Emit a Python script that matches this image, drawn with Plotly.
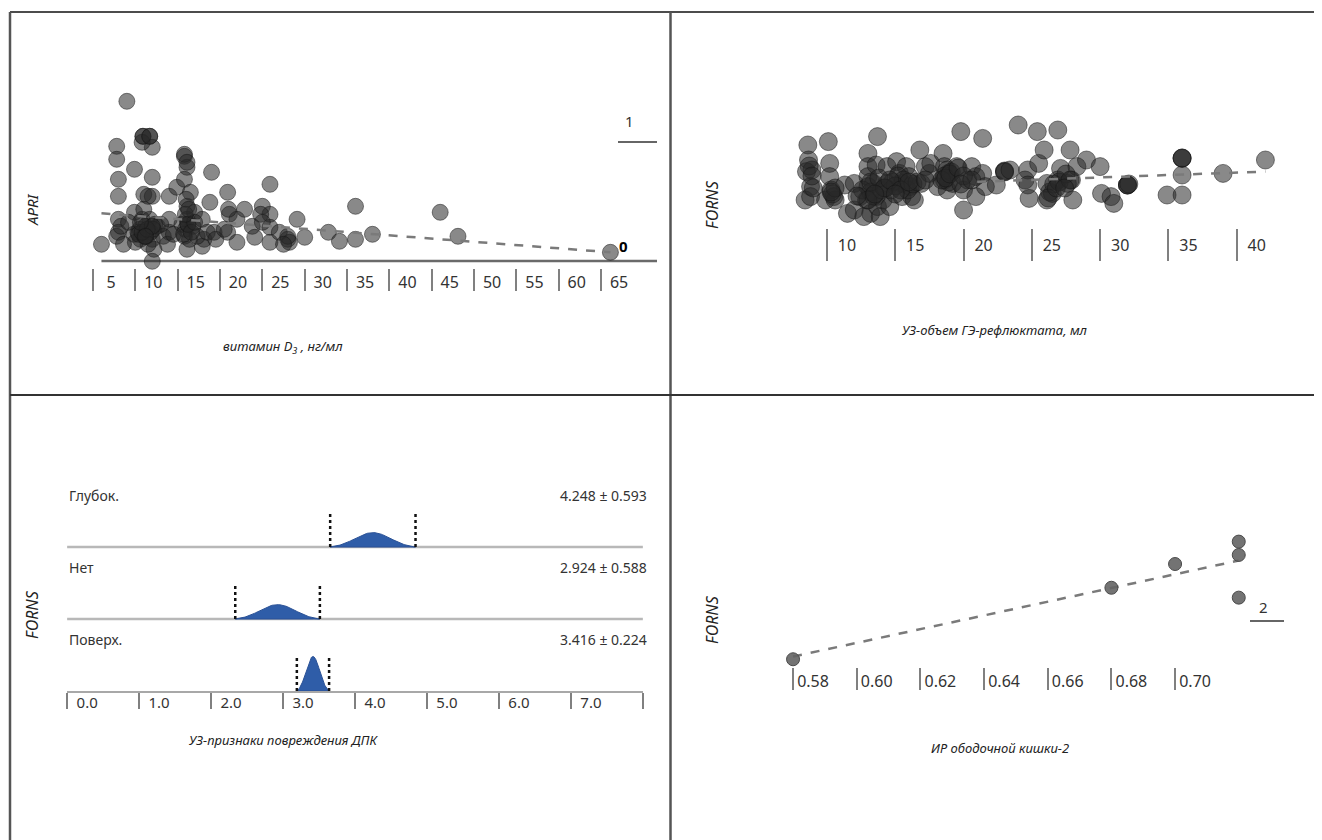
import numpy as np
import plotly.graph_objects as go

# the page body adds an 8px margin, so the figure is drawn 8px smaller and
# all reference pixel positions are shifted by that margin
OFF = 8
W, H = 1322 - OFF, 840 - OFF


def fx(px):
    return (px - OFF) / W


def fy(py):
    return 1 - (py - OFF) / H


# ---------------- Panel 1: APRI vs vitamin D3 ----------------
vit_d = [6.0, 9.0, 7.8, 7.8, 8.0, 8.0, 8.0, 8.0, 7.8, 9.9, 10.9, 11.7, 12.0, 12.0, 11.0, 12.0,
         10.8, 11.7, 11.3, 12.0, 12.2, 12.0, 10.3, 9.9, 12.6, 14.0, 14.0, 14.0, 13.3, 14.9, 15.8,
         16.1, 15.8, 16.1, 16.5, 16.1, 15.8, 16.1, 17.0, 17.9, 18.1, 17.9, 18.8, 19.0, 19.3, 20.9,
         21.1, 20.9, 22.0, 22.0, 22.9, 23.8, 24.1, 25.0, 25.9, 25.9, 25.9, 25.9, 27.0, 28.0, 28.2,
         29.1, 30.0, 32.8, 34.1, 36.0, 36.0, 38.0, 46.0, 48.1, 66.1,
         10.5, 11.2, 11.8, 10.6, 11.5, 12.3, 9.8, 8.3, 10.0, 11.0, 11.5, 10.8, 13.0, 15.9, 16.4,
         15.5, 16.8, 17.3, 16.0, 15.8, 18.5, 19.5, 21.0, 20.5, 24.8, 25.0, 28.0, 27.5, 13.8, 14.5,
         9.2, 8.6, 10.4, 11.1, 15.7, 16.2, 12.1,
         10.8, 11.4, 12.0, 10.6, 11.2, 16.2, 16.6, 17.0, 15.9, 16.3, 10.9, 11.7, 16.1]
apri = [0.10, 1.53, 1.08, 0.95, 0.75, 0.58, 0.35, 0.22, 0.18, 0.85, 1.18, 1.18, 1.07, 0.77, 0.60, 0.58,
        0.35, 0.35, 0.18, 0.15, 0.05, -0.07, 0.22, 0.42, 0.28, 0.58, 0.22, 0.35, 0.18, 0.67, 0.98,
        0.87, 0.75, 0.48, 0.62, 0.35, 0.18, 0.05, 0.42, 0.35, 0.15, 0.08, 0.52, 0.82, 0.22, 0.62,
        0.40, 0.22, 0.35, 0.12, 0.45, 0.28, 0.17, 0.48, 0.70, 0.40, 0.27, 0.12, 0.22, 0.15, 0.12,
        0.35, 0.17, 0.22, 0.13, 0.48, 0.15, 0.20, 0.42, 0.18, 0.02,
        0.25, 0.28, 0.22, 0.15, 0.10, 0.30, 0.20, 0.28, 0.12, 0.45, 0.58, 1.12, 0.30, 0.25, 0.15,
        0.30, 0.28, 0.18, 0.55, 1.00, 0.22, 0.15, 0.45, 0.25, 0.40, 0.32, 0.18, 0.10, 0.10, 0.20,
        0.32, 0.10, 0.20, 0.18, 0.20, 0.30, 0.25,
        0.22, 0.25, 0.28, 0.32, 0.18, 0.30, 0.22, 0.32, 0.40, 0.45, 1.18, 1.18, 0.92]
apri_trend_x = [6.0, 66.1]
apri_trend_y = [0.41, 0.02]
apri_base_y = -0.067
vit_ticks = [5, 10, 15, 20, 25, 30, 35, 40, 45, 50, 55, 60, 65]

# ---------------- Panel 2: FORNS vs reflux volume ----------------
vol = [8.6, 8.65, 8.5, 8.9, 8.8, 8.4, 8.8, 10.1, 10.2, 10.2, 10.3, 10.5, 9.9, 10.6, 11.3, 11.5,
       12.0, 12.0, 12.4, 12.9, 13.0, 13.0, 13.0, 13.0, 13.2, 12.7, 13.7, 13.6, 13.4, 13.6, 13.7,
       13.9, 14.1, 14.4, 14.4, 14.6, 14.7, 15.1, 15.3, 15.5, 15.5, 15.8, 16.0, 16.1, 16.2, 16.4,
       16.8, 16.9, 17.2, 17.5, 17.6, 18.1, 18.5, 18.6, 18.6, 18.8, 18.9, 19.2, 19.5, 19.8, 20.0,
       20.0, 20.3, 20.6, 20.9, 20.9, 21.4, 21.4, 21.6, 22.4, 23.0, 24.0, 24.7, 24.5, 24.7, 24.8,
       25.4, 25.5, 25.9, 26.1, 26.1, 26.5, 26.9, 27.1, 26.9, 27.6, 27.8, 27.9, 28.0, 28.3, 29.0,
       30.0, 30.1, 30.8, 31.0, 32.0, 34.9, 36.0, 36.0, 36.0, 39.0, 42.1,
       9.0, 10.4, 10.6, 12.6, 13.2, 13.4, 13.0, 14.0, 14.8, 15.2, 15.6, 15.9, 16.3, 18.8, 18.6,
       18.9, 19.1, 18.4, 23.0, 23.0, 26.3, 26.6, 27.0, 26.2, 32.0, 32.0, 36.0, 36.0, 8.7, 8.9,
       10.3, 12.2, 14.3, 15.0, 16.6, 18.7, 19.0, 26.8,
       13.2, 13.8, 14.2, 13.5, 14.6, 15.4, 16.0, 17.2, 19.6, 20.0, 19.8, 20.6, 27.5, 27.8, 23.4,
       32.1, 27.4, 15.0]
forns_vol = [7.75, 7.0, 6.42, 6.5, 5.67, 5.0, 5.17, 7.92, 6.83, 6.17, 5.5, 5.17, 5.0, 5.0, 5.75, 4.33,
             5.83, 4.5, 5.17, 5.0, 7.33, 6.67, 6.17, 5.67, 4.33, 4.17, 8.17, 6.75, 5.83, 5.17, 4.67,
             4.17, 5.0, 6.67, 5.83, 4.67, 5.5, 6.92, 6.33, 5.83, 5.17, 6.67, 6.17, 5.67, 5.17, 5.0,
             7.5, 5.83, 6.67, 6.33, 6.83, 5.67, 7.33, 6.67, 6.0, 5.5, 6.33, 5.83, 6.67, 8.42, 4.5,
             5.5, 6.0, 6.67, 6.17, 5.17, 8.08, 6.33, 5.67, 5.75, 6.42, 8.75, 6.5, 6.0, 5.75, 5.08,
             8.42, 6.83, 7.5, 5.83, 5.0, 5.33, 8.5, 6.58, 6.0, 5.83, 7.5, 6.0, 5.0, 6.67, 7.0,
             6.67, 5.33, 5.17, 4.83, 5.75, 5.25, 5.25, 6.25, 7.08, 6.33, 7.0,
             5.6, 5.3, 5.6, 5.5, 5.4, 5.2, 5.0, 5.5, 5.9, 6.2, 6.0, 5.5, 5.8, 6.5, 6.2,
             5.9, 6.4, 6.0, 6.45, 6.4, 5.4, 5.8, 5.9, 5.1, 5.75, 5.75, 7.1, 7.1, 6.7, 6.2,
             5.4, 5.2, 5.6, 5.7, 5.9, 6.1, 6.3, 5.6,
             5.9, 6.1, 5.6, 5.3, 6.0, 5.5, 5.9, 6.0, 6.6, 6.2, 5.8, 6.0, 6.3, 6.0, 6.5,
             5.8, 5.6, 5.3]
vol_trend_x = [21.0, 42.1]
vol_trend_y = [5.91, 6.42]
vol_ticks = [10, 15, 20, 25, 30, 35, 40]

# ---------------- Panel 3: FORNS by duodenal damage group ----------------
groups = ["Глубок.", "Нет", "Поверх."]
group_mean = [4.248, 2.924, 3.416]
group_sd = [0.593, 0.588, 0.224]
group_peak = [0.20, 0.20, 0.48]
group_row = [2, 1, 0]
duo_ticks = [0, 1, 2, 3, 4, 5, 6, 7]
duo_labels = ["0.0", "1.0", "2.0", "3.0", "4.0", "5.0", "6.0", "7.0"]
duo_end = 8

# ---------------- Panel 4: FORNS vs colon IR ----------------
ir = [0.58, 0.68, 0.70, 0.72, 0.72, 0.72]
forns_ir = [3.53, 6.21, 7.10, 7.94, 7.44, 5.84]
ir_trend_x = [0.58, 0.72]
ir_trend_y = [3.63, 7.23]
ir_ticks = [0.58, 0.60, 0.62, 0.64, 0.66, 0.68, 0.70]

FONT = "Noto Sans"
TXT = "#333333"
TICKC = "#808080"
DOT = "rgba(40,40,40,0.55)"
DOT_LINE = "rgba(20,20,20,0.5)"
TREND = dict(color="#7a7a7a", width=2.5, dash="dash")

fig = go.Figure()

# Panel 1
fig.add_trace(go.Scatter(x=vit_d, y=apri, mode="markers", xaxis="x", yaxis="y", cliponaxis=False,
                         marker=dict(size=16, color=DOT, line=dict(color=DOT_LINE, width=1)),
                         hoverinfo="skip"))
fig.add_trace(go.Scatter(x=apri_trend_x, y=apri_trend_y, mode="lines", xaxis="x", yaxis="y",
                         line=TREND, hoverinfo="skip"))

# Panel 2
fig.add_trace(go.Scatter(x=vol, y=forns_vol, mode="markers", xaxis="x2", yaxis="y2", cliponaxis=False,
                         marker=dict(size=18, color=DOT, line=dict(color=DOT_LINE, width=1)),
                         hoverinfo="skip"))
fig.add_trace(go.Scatter(x=vol_trend_x, y=vol_trend_y, mode="lines", xaxis="x2", yaxis="y2",
                         line=TREND, hoverinfo="skip"))

# Panel 3
t = np.linspace(-1, 1, 81)
g = np.exp(-0.5 * (t / 0.42) ** 2)
shape01 = (g - g[0]) / (1 - g[0])
for name, m, s, h, row in zip(groups, group_mean, group_sd, group_peak, group_row):
    xs = m + s * t
    fig.add_trace(go.Scatter(x=np.concatenate([xs, xs[::-1]]),
                             y=np.concatenate([row + h * shape01, np.full_like(xs, row)]),
                             mode="lines", fill="toself", fillcolor="#2f5da8",
                             line=dict(color="#2a5196", width=1), xaxis="x3", yaxis="y3",
                             hoverinfo="skip"))
    fig.add_trace(go.Scatter(x=[m - s, m - s, None, m + s, m + s],
                             y=[row, row + 0.47, None, row, row + 0.47],
                             mode="lines", line=dict(color="#111111", width=2.5, dash="dot"),
                             xaxis="x3", yaxis="y3", hoverinfo="skip"))

# Panel 4
fig.add_trace(go.Scatter(x=ir_trend_x, y=ir_trend_y, mode="lines", xaxis="x4", yaxis="y4",
                         line=TREND, hoverinfo="skip"))
fig.add_trace(go.Scatter(x=ir, y=forns_ir, mode="markers", xaxis="x4", yaxis="y4", cliponaxis=False,
                         marker=dict(size=13, color="rgba(100,100,100,0.9)",
                                     line=dict(color="#4a4a4a", width=1)),
                         hoverinfo="skip"))

hidden = dict(visible=False, showgrid=False, zeroline=False)


def xax(domain, rng, vals, texts, ticklen, shift, standoff, size=16, **kw):
    d = dict(domain=domain, range=rng, tickmode="array", tickvals=vals, ticktext=texts,
             ticks="outside", ticklen=ticklen, tickwidth=2, tickcolor=TICKC,
             tickfont=dict(family=FONT, size=size, color=TXT),
             ticklabelshift=shift, ticklabelstandoff=standoff,
             showgrid=False, zeroline=False, showline=False, fixedrange=True)
    d.update(kw)
    return d


fig.update_layout(
    width=W, height=H,
    margin=dict(l=0, r=0, t=0, b=0),
    paper_bgcolor="white", plot_bgcolor="rgba(0,0,0,0)",
    showlegend=False,
    font=dict(family=FONT, color=TXT),
    xaxis=xax([fx(78), fx(657)], [3.23, 71.6], vit_ticks, [str(v) for v in vit_ticks],
              22, 18, -22, anchor="y"),
    yaxis=dict(domain=[fy(268), fy(90)], range=[-0.137, 1.643], anchor="x", **hidden),
    xaxis2=xax([fx(770), fx(1290)], [5.83, 43.9], vol_ticks, [str(v) for v in vol_ticks],
               32, 20, -29, anchor="y2"),
    yaxis2=dict(domain=[fy(228), fy(110)], range=[3.6, 9.5], anchor="x2", **hidden),
    xaxis3=xax([fx(67), fx(643)], [-0.002, 8.002], duo_ticks, duo_labels,
               16, 20, -19, size=15, anchor="y3", showline=True, linecolor="#a8a8a8", linewidth=2,
               minor=dict(tickmode="array", tickvals=[duo_end], ticks="outside", ticklen=16,
                          tickwidth=2, tickcolor=TICKC, showgrid=False)),
    yaxis3=dict(domain=[fy(691), fy(475)], range=[0, 3], anchor="x3", **hidden),
    xaxis4=xax([fx(780), fx(1290)], [0.5759, 0.7361], ir_ticks, ["%.2f" % v for v in ir_ticks],
               22, 20, -22, anchor="y4"),
    yaxis4=dict(domain=[fy(667), fy(530)], range=[3.24, 8.375], anchor="x4", **hidden),
)

shapes = []
# table borders
shapes.append(dict(type="line", xref="paper", yref="paper", x0=fx(10), x1=1, y0=fy(12), y1=fy(12),
                   line=dict(color="#111111", width=1.5)))
shapes.append(dict(type="line", xref="paper", yref="paper", x0=fx(10), x1=fx(10), y0=fy(12), y1=0,
                   line=dict(color="#555555", width=2.5)))
shapes.append(dict(type="line", xref="paper", yref="paper", x0=fx(670.5), x1=fx(670.5), y0=fy(12), y1=0,
                   line=dict(color="#555555", width=2.5)))
shapes.append(dict(type="line", xref="paper", yref="paper", x0=fx(10), x1=1, y0=fy(395), y1=fy(395),
                   line=dict(color="#333333", width=2)))
# panel 1 baseline
shapes.append(dict(type="line", xref="x", yref="y", x0=apri_trend_x[0], x1=71.6,
                   y0=apri_base_y, y1=apri_base_y, line=dict(color="#6a6a6a", width=2.5), layer="below"))
# panel 1 / panel 4 marker dashes
shapes.append(dict(type="line", xref="paper", yref="paper", x0=fx(618), x1=fx(657), y0=fy(142), y1=fy(142),
                   line=dict(color="#666666", width=2)))
shapes.append(dict(type="line", xref="paper", yref="paper", x0=fx(1250), x1=fx(1284), y0=fy(621), y1=fy(621),
                   line=dict(color="#666666", width=2)))
# panel 3 row baselines
for row in group_row:
    if row > 0:
        shapes.append(dict(type="line", xref="x3", yref="y3", x0=duo_ticks[0], x1=duo_end,
                           y0=row, y1=row, line=dict(color="#b8b8b8", width=2.5), layer="below"))
fig.update_layout(shapes=shapes)

ann = []


def a_paper(text, x, y, size=13, italic=True, angle=0, color="#222222", bold=False, xanchor="center"):
    if italic:
        text = "<i>" + text + "</i>"
    if bold:
        text = "<b>" + text + "</b>"
    ann.append(dict(text=text, x=fx(x), y=fy(y), xref="paper", yref="paper", showarrow=False,
                    textangle=angle, xanchor=xanchor, yanchor="middle",
                    font=dict(family=FONT, size=size, color=color)))


a_paper("витамин D<sub>3</sub> , нг/мл", 283, 347)
a_paper("УЗ-объем ГЭ-рефлюктата, мл", 995, 330)
a_paper("УЗ-признаки повреждения ДПК", 283, 740)
a_paper("ИР ободочной кишки-2", 1000, 748)
a_paper("APRI", 32, 210, size=15, angle=-90)
a_paper("FORNS", 712, 205, size=16, angle=-90)
a_paper("FORNS", 32, 615, size=16, angle=-90)
a_paper("FORNS", 712, 620, size=16, angle=-90)
a_paper("1", 629, 121, size=15, italic=False, color="#333333")
a_paper("0", 623, 246, size=15, italic=False, color="#000000", bold=True)
a_paper("2", 1263, 607, size=15, italic=False, color="#333333")

for name, m, s, row in zip(groups, group_mean, group_sd, group_row):
    ann.append(dict(text=name, x=duo_ticks[0], y=row + 0.71, xref="x3", yref="y3", showarrow=False,
                    xanchor="left", yanchor="middle", font=dict(family=FONT, size=14, color=TXT)))
    ann.append(dict(text="%.3f ± %.3f" % (m, s), x=duo_end, y=row + 0.71, xref="x3", yref="y3",
                    xshift=6, showarrow=False, xanchor="right", yanchor="middle",
                    font=dict(family=FONT, size=14, color=TXT)))

fig.update_layout(annotations=ann)
fig.write_html("out.html")
